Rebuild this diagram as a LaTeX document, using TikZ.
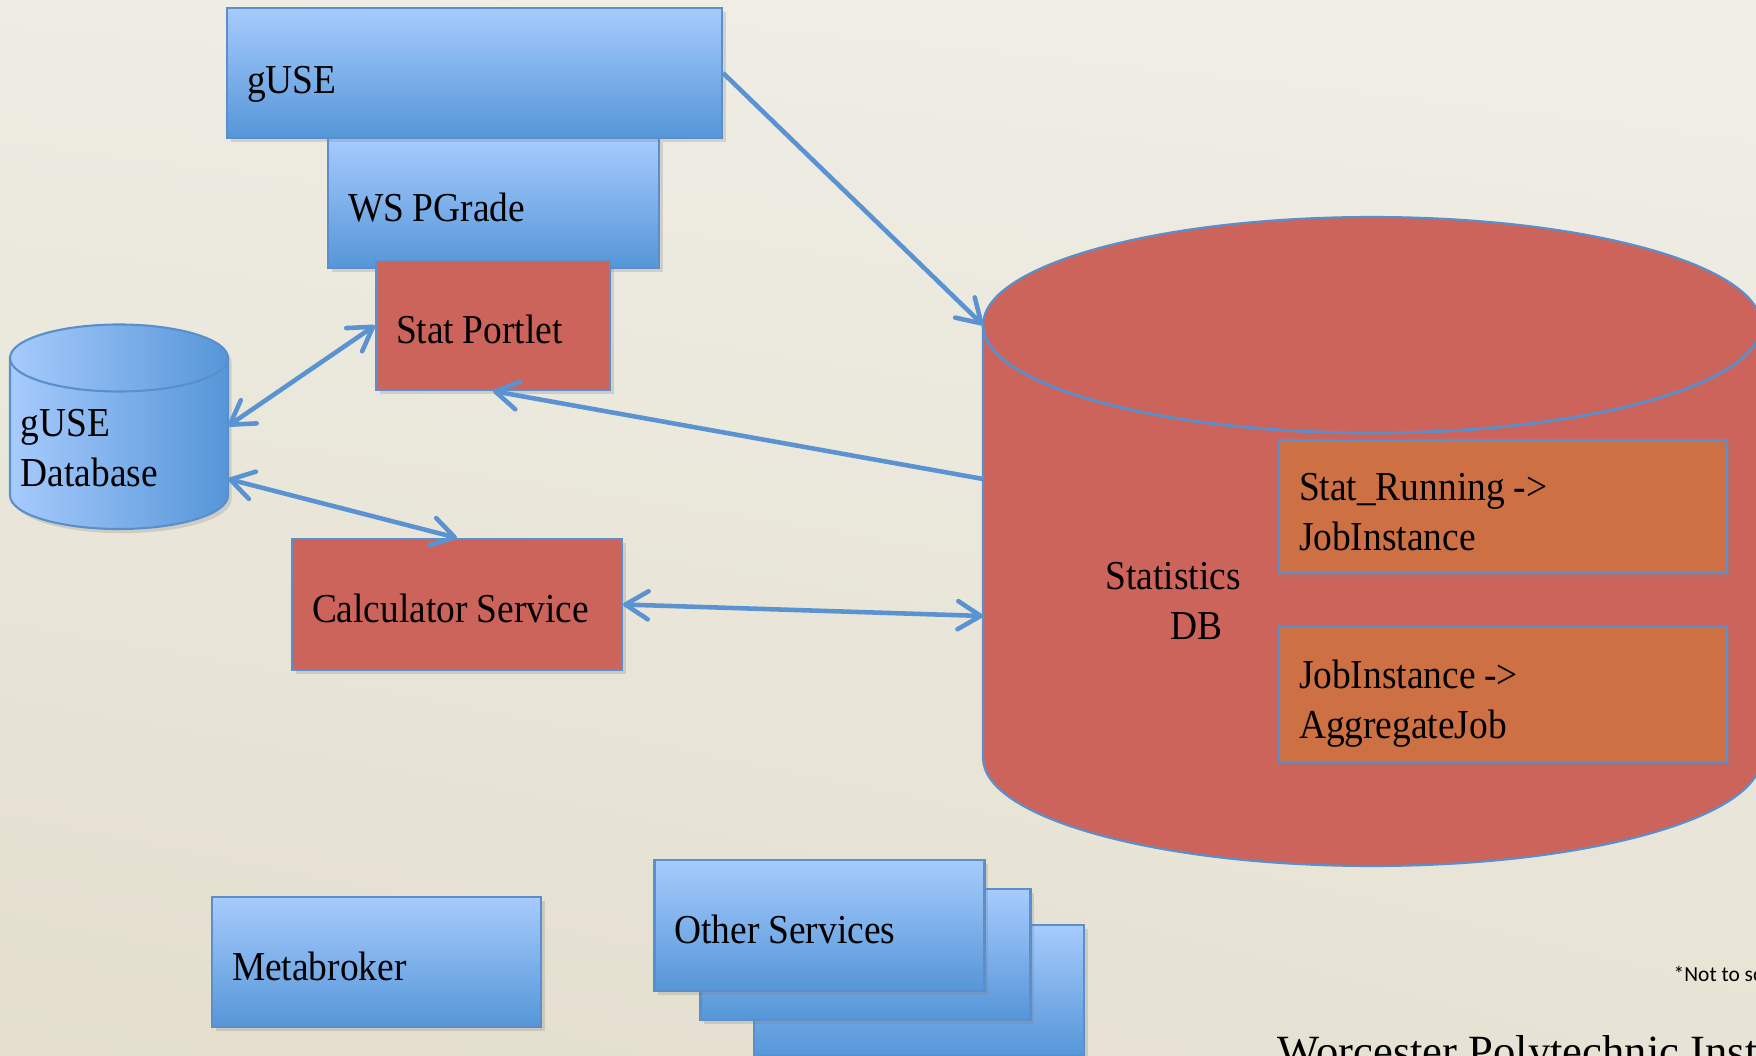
\documentclass[tikz,border=0pt]{standalone}
\usepackage{fontspec}
\setmainfont{Liberation Serif}[FakeStretch=0.91]
\newfontfamily\notefont{Carlito}
\newfontfamily\wpifont{Liberation Serif}
\usepackage{tikz}
\usetikzlibrary{arrows.meta,shadows,shadings}

\definecolor{bluetop}{HTML}{A7CBFD}
\definecolor{bluebot}{HTML}{5596D8}
\definecolor{boxline}{HTML}{5B8FCB}
\definecolor{portred}{HTML}{CD645C}
\definecolor{tblorange}{HTML}{CD7043}
\definecolor{linkblue}{HTML}{5B93D2}
\definecolor{bgtl}{HTML}{EEECE3}
\definecolor{bgtr}{HTML}{F0EEE6}
\definecolor{bgbl}{HTML}{E3DECD}
\definecolor{bgbr}{HTML}{E7E3D5}
\newcommand\tightspace{\spaceskip=2.5pt plus 0.5pt minus 0.3pt\relax}

\begin{document}
\begin{tikzpicture}
	[x=0.1mm,y=-0.1mm,
	font=\fontsize{11.7pt}{14.2pt}\selectfont,
	>={Straight Barb[length=6.5pt,width=8pt,round]},
	box/.style={draw=boxline, line width=0.6pt, inner xsep=2mm, inner ysep=0pt, align=left,
		text height=13pt, text depth=2.5pt, execute at begin node=\tightspace,
		drop shadow={shadow xshift=1pt, shadow yshift=-1.2pt, opacity=0.25}},
	twoline/.style={text height=11pt, text depth=14.2pt},
	bluebox/.style={box, top color=bluetop, bottom color=bluebot},
	redbox/.style={box, fill=portred},
	tblbox/.style={box, fill=tblorange, twoline},
	link/.style={draw=linkblue, line width=1.3pt}]
	\useasboundingbox (0,0) rectangle (1756,1056);
	\shade[upper left=bgtl, upper right=bgtr, lower left=bgbl, lower right=bgbr] (0,0) rectangle (1756,1056);
	
	% portal stack
	\node[bluebox, text width=29.1mm, minimum height=13mm] (wspgrade) at (493.5,203) {WS PGrade};
	\node[bluebox, text width=45.5mm, minimum height=13mm, text height=13.9pt] (guse) at (474.5,73) {gUSE};
	\node[redbox, text width=19.4mm, minimum height=12.9mm, text height=12.5pt] (portlet) at (493,325.5) {Stat Portlet};
	\node[redbox, text width=29mm, minimum height=13.1mm] (calc) at (457,604.5) {Calculator Service};
	
	% gUSE database
	\path[draw=boxline, line width=0.6pt, left color=bluetop, right color=bluebot,
		drop shadow={shadow xshift=1pt, shadow yshift=-1.2pt, opacity=0.25}]
		(10,358) -- (10,495.5) arc[start angle=180, end angle=360, x radius=10.9mm, y radius=3.35mm]
		-- (228,358) arc[start angle=0, end angle=180, x radius=10.9mm, y radius=3.35mm] -- cycle;
	\draw[boxline, line width=0.6pt] (10,358) arc[start angle=180, end angle=360, x radius=10.9mm, y radius=3.35mm];
	\node[anchor=west, align=left, inner sep=0pt] (gdblabel) at (20,448) {gUSE\\Database};
	\coordinate (gdbup) at (228,426);
	\coordinate (gdblow) at (228,479);
	
	% statistics database
	\path[draw=boxline, line width=0.6pt, fill=portred]
		(983,325) -- (983,758) arc[start angle=180, end angle=360, x radius=38.9mm, y radius=10.8mm]
		-- (1761,325) arc[start angle=0, end angle=180, x radius=38.9mm, y radius=10.8mm] -- cycle;
	\draw[boxline, line width=0.8pt] (983,325) arc[start angle=180, end angle=360, x radius=38.9mm, y radius=10.8mm];
	\node[align=center] (statdb) at (1173,601) {Statistics\\\hspace*{4.6mm}DB};
	\node[tblbox, text width=40.8mm, minimum height=13.3mm] (running) at (1503,506.5) {Stat\_Running ->\\JobInstance};
	\node[tblbox, text width=40.8mm, minimum height=13.5mm] (aggregate) at (1503,694.5) {JobInstance ->\\AggregateJob};
	\coordinate (sdbtop) at (983,325);
	\coordinate (sdbmid) at (983,479);
	\coordinate (sdblow) at (983,616);
	
	% services
	\node[bluebox, text width=28.9mm, minimum height=13mm] (broker) at (376.5,962) {Metabroker};
	\node[bluebox, text width=29mm, minimum height=13.1mm] (other3) at (919,990.5) {};
	\node[bluebox, text width=29mm, minimum height=13.1mm] (other2) at (865.5,954.5) {};
	\node[bluebox, text width=29mm, minimum height=13.1mm, text height=12.6pt] (other1) at (819.5,925.5) {Other Services};
	
	% links
	\draw[link,->] (guse.east) -- (sdbtop);
	\draw[link,->] (sdbmid) -- (portlet.south);
	\foreach \from/\to in {portlet.west/gdbup,gdblow/calc.north,calc.east/sdblow}
		\draw[link,<->] (\from) -- (\to);
	
	\node[anchor=base west, inner sep=0pt, font=\notefont\fontsize{6.1pt}{8pt}\selectfont] (note) at (1673,981) {*Not to scale};
	\node[anchor=base west, inner sep=0pt, font=\wpifont\fontsize{12.7pt}{16pt}\selectfont] (wpi) at (1277,1066) {Worcester Polytechnic Institute};
\end{tikzpicture}
\end{document}
